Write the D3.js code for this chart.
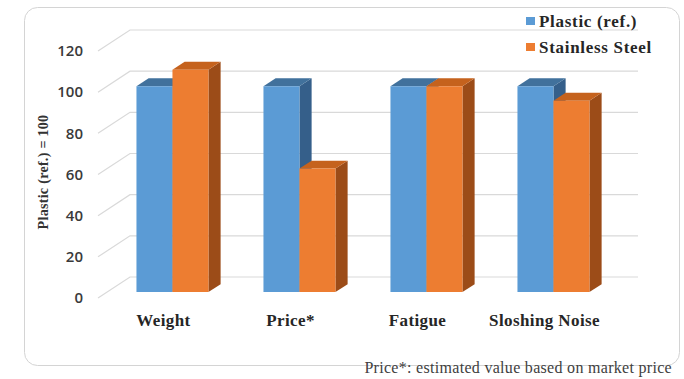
<!DOCTYPE html>
<html><head><meta charset="utf-8">
<script src="https://cdn.jsdelivr.net/npm/d3@7"></script>
<style>html,body{margin:0;padding:0;background:#fff;}svg{display:block;}</style>
</head><body>
<script>
const categories = ["Weight", "Price*", "Fatigue", "Sloshing Noise"];
const seriesNames = ["Plastic (ref.)", "Stainless Steel"];
const plasticValues = [100, 100, 100, 100];
const steelValues = [108, 60, 100, 93];
const yTicks = [0, 20, 40, 60, 80, 100, 120];
const yTitle = "Plastic (ref.) = 100";
const footnote = "Price*: estimated value based on market price";

const W = 684, H = 379;
const svg = d3.select("body").append("svg").attr("width", W).attr("height", H);

// frame
svg.append("rect").attr("x", 24.5).attr("y", 7.5).attr("width", 655).attr("height", 358)
  .attr("rx", 13).attr("fill", "#fff").attr("stroke", "#d4d4d4").attr("stroke-width", 1);

const depthDX = 32, depthDY = -21;
const y = d3.scaleLinear().domain([0, 120]).range([298, 51]);
const x0 = d3.scaleBand().domain(categories).range([100, 608]);
const wallL = 98, wallR = 606;
const P = (xf, v, d) => [xf + depthDX * d, y(v) + depthDY * d];

// gridlines: side wall diagonals + back wall
const grid = svg.append("g").attr("stroke", "#d9d9d9").attr("stroke-width", 1.2).attr("fill", "none");
yTicks.forEach(t => {
  const a = P(wallL, t, 0), b = P(wallL, t, 1), c = P(wallR, t, 1);
  grid.append("path").attr("d", `M${a[0]},${a[1]}L${b[0]},${b[1]}L${c[0]},${c[1]}`);
});

// tick labels
svg.append("g").selectAll("text").data(yTicks).join("text")
  .attr("x", 83).attr("y", d => y(d)).attr("dy", "0.35em")
  .attr("text-anchor", "end").attr("font-family", "'Open Sans', sans-serif")
  .attr("font-size", 15).attr("font-weight", 600).attr("fill", "#3a3a3a").text(d => d);

// y title
svg.append("text").attr("transform", "translate(47.5,172) rotate(-90)")
  .attr("text-anchor", "middle").attr("font-family", "'Liberation Serif', serif")
  .attr("font-weight", "bold").attr("font-size", 14).attr("letter-spacing", 0.3)
  .attr("fill", "#333").text(yTitle);

const colors = [
  {front: "#5b9bd5", top: "#41719c", side: "#355f8a"},
  {front: "#ed7d31", top: "#c5621d", side: "#9c4c18"}
];
const d0 = 0.28, d1 = 0.66, barW = 36;
const series = [plasticValues, steelValues];
const bars = svg.append("g");
categories.forEach((c, i) => {
  const center = x0(c) + x0.bandwidth() / 2;
  series.forEach((vals, s) => {
    const v = vals[i];
    const xl = center - barW + s * barW, xr = xl + barW;
    const col = colors[s];
    const poly = pts => "M" + pts.map(p => p.join(",")).join("L") + "Z";
    const g = bars.append("g");
    g.append("path").attr("d", poly([P(xr, v, d0), P(xr, v, d1), P(xr, 0, d1), P(xr, 0, d0)])).attr("fill", col.side);
    g.append("path").attr("d", poly([P(xl, v, d0), P(xr, v, d0), P(xr, v, d1), P(xl, v, d1)])).attr("fill", col.top);
    g.append("path").attr("d", poly([P(xl, v, d0), P(xr, v, d0), P(xr, 0, d0), P(xl, 0, d0)])).attr("fill", col.front);
  });
});

// category labels
svg.append("g").selectAll("text").data(categories).join("text")
  .attr("x", d => x0(d) + x0.bandwidth() / 2).attr("y", 326)
  .attr("text-anchor", "middle").attr("font-family", "'Liberation Serif', serif")
  .attr("font-weight", "bold").attr("font-size", 17).attr("letter-spacing", 0.4)
  .attr("fill", "#262626").text(d => d);

// legend
const leg = svg.append("g");
seriesNames.forEach((n, i) => {
  leg.append("rect").attr("x", 526).attr("y", 17 + i * 26).attr("width", 9).attr("height", 8).attr("fill", colors[i].front);
  leg.append("text").attr("x", 539).attr("y", 21 + i * 26).attr("dy", "0.35em")
    .attr("font-family", "'Liberation Serif', serif").attr("font-weight", "bold")
    .attr("font-size", 17).attr("letter-spacing", 0.7).attr("fill", "#262626").text(n);
});

// footnote
svg.append("text").attr("x", 672).attr("y", 373).attr("text-anchor", "end")
  .attr("font-family", "'Liberation Serif', serif").attr("font-size", 16).attr("letter-spacing", 0.3)
  .attr("fill", "#404040").text(footnote);
</script>
</body></html>
